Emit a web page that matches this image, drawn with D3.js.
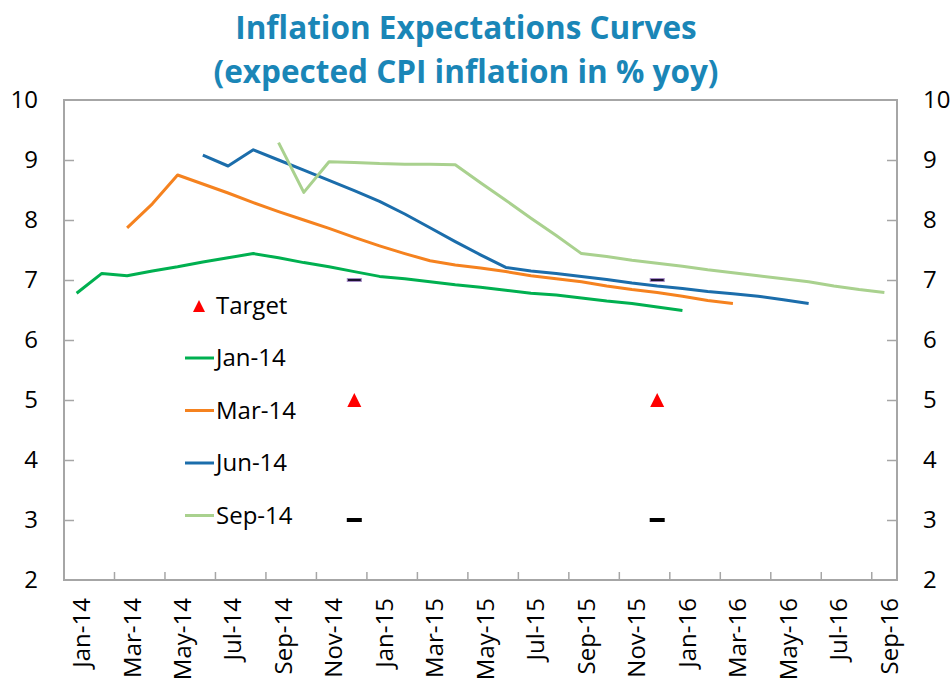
<!DOCTYPE html>
<html>
<head>
<meta charset="utf-8">
<script src="https://cdn.jsdelivr.net/npm/d3@7"></script>
<style>
  body { margin: 0; background: #fff; }
  text { font-family: "Open Sans", sans-serif; fill: #000; }
</style>
</head>
<body>
<svg id="chart"></svg>
<script>
const width = 951;
const height = 681;

// monthly categories on the x axis
const months = ['Jan-14', 'Feb-14', 'Mar-14', 'Apr-14', 'May-14', 'Jun-14', 'Jul-14', 'Aug-14',
    'Sep-14', 'Oct-14', 'Nov-14', 'Dec-14', 'Jan-15', 'Feb-15', 'Mar-15', 'Apr-15', 'May-15',
    'Jun-15', 'Jul-15', 'Aug-15', 'Sep-15', 'Oct-15', 'Nov-15', 'Dec-15', 'Jan-16', 'Feb-16',
    'Mar-16', 'Apr-16', 'May-16', 'Jun-16', 'Jul-16', 'Aug-16', 'Sep-16'];
const tickLabels = months.filter((d, i) => i % 2 === 0);
const yTicks = [2, 3, 4, 5, 6, 7, 8, 9, 10];

// survey curves: first month + monthly values
const seriesNames = ['Jan-14', 'Mar-14', 'Jun-14', 'Sep-14'];
const seriesStart = ['Jan-14', 'Mar-14', 'Jun-14', 'Sep-14'];
const jan14 = [6.78, 7.11, 7.07, 7.15, 7.22, 7.30, 7.37, 7.44, 7.37, 7.29, 7.22, 7.14, 7.06,
    7.02, 6.97, 6.92, 6.88, 6.83, 6.78, 6.75, 6.70, 6.65, 6.61, 6.55, 6.49];
const mar14 = [7.87, 8.27, 8.75, 8.60, 8.45, 8.29, 8.14, 8.00, 7.86, 7.71, 7.57, 7.44, 7.32,
    7.25, 7.20, 7.14, 7.07, 7.02, 6.97, 6.90, 6.84, 6.79, 6.73, 6.66, 6.61];
const jun14 = [9.08, 8.90, 9.17, 9.00, 8.83, 8.66, 8.49, 8.31, 8.10, 7.87, 7.64, 7.42, 7.21,
    7.15, 7.11, 7.06, 7.01, 6.95, 6.90, 6.86, 6.81, 6.77, 6.73, 6.67, 6.61];
const sep14 = [9.29, 8.46, 8.97, 8.96, 8.94, 8.93, 8.93, 8.92, 8.62, 8.33, 8.03, 7.74, 7.44,
    7.39, 7.33, 7.28, 7.23, 7.17, 7.12, 7.07, 7.02, 6.97, 6.90, 6.84, 6.79];
const seriesValues = [jan14, mar14, jun14, sep14];
const seriesColors = ['#00b050', '#f5821f', '#1b6dab', '#a9d18e'];

// target and band
const targetMonths = ['Dec-14', 'Dec-15'];
const targetValues = [5, 5];
const upperBand = [7, 7];
const lowerBand = [3, 3];

const plotLeft = 64, plotRight = 897, plotTop = 100, plotBottom = 580;
const fontSize = '24px';

const svg = d3.select('#chart')
    .attr('width', width)
    .attr('height', height);

const x = d3.scaleBand().domain(months).range([plotLeft, plotRight]);
const y = d3.scaleLinear().domain([2, 10]).range([plotBottom, plotTop]);
const bw = x.bandwidth();
const cx = m => x(m) + bw / 2;

// title
const titleColor = '#1a86b7';
svg.append('text')
    .attr('x', 466).attr('y', 39)
    .attr('text-anchor', 'middle')
    .style('font-size', '31.5px').style('font-weight', 'bold').style('fill', titleColor)
    .text('Inflation Expectations Curves');
svg.append('text')
    .attr('x', 466).attr('y', 83)
    .attr('text-anchor', 'middle')
    .style('font-size', '31.5px').style('font-weight', 'bold').style('fill', titleColor)
    .text('(expected CPI inflation in % yoy)');

// frame
svg.append('rect')
    .attr('x', plotLeft).attr('y', plotTop)
    .attr('width', plotRight - plotLeft).attr('height', plotBottom - plotTop)
    .attr('fill', 'none')
    .attr('stroke', '#a6a6a6')
    .attr('stroke-width', 2);

// y axes (left and right)
const yLeft = svg.append('g')
    .attr('transform', `translate(${plotLeft}, 0)`)
    .call(d3.axisLeft(y).tickValues(yTicks).tickSizeInner(-10).tickSizeOuter(0).tickPadding(26));
const yRight = svg.append('g')
    .attr('transform', `translate(${plotRight}, 0)`)
    .call(d3.axisRight(y).tickValues(yTicks).tickSizeInner(-10).tickSizeOuter(0).tickPadding(26));

[yLeft, yRight].forEach(g => {
    g.select('.domain').remove();
    g.selectAll('line').attr('stroke', '#a6a6a6').attr('stroke-width', 1.5);
    g.selectAll('line').filter(d => d === 2 || d === 10).remove();
    g.selectAll('text').style('font-size', fontSize).style('font-family', '"Open Sans", sans-serif');
});

// x axis: labels every other month, ticks between categories
const xAxis = svg.append('g')
    .attr('transform', `translate(0, ${plotBottom})`)
    .call(d3.axisBottom(x).tickValues(tickLabels).tickSize(0));
xAxis.select('.domain').remove();
xAxis.selectAll('text')
    .attr('transform', 'rotate(-90)')
    .attr('text-anchor', 'end')
    .attr('x', -18)
    .attr('y', 5)
    .attr('dy', '0.35em')
    .style('font-size', fontSize)
    .style('font-family', '"Open Sans", sans-serif');

svg.append('g').selectAll('line')
    .data(months.filter((d, i) => i % 2 === 0 && i > 0))
    .enter()
    .append('line')
    .attr('x1', d => x(d)).attr('x2', d => x(d))
    .attr('y1', plotBottom).attr('y2', plotBottom - 8)
    .attr('stroke', '#a6a6a6')
    .attr('stroke-width', 1.5);

// curves
const line = d3.line()
    .x(d => cx(d.month))
    .y(d => y(d.value));

seriesValues.forEach((vals, k) => {
    const start = months.indexOf(seriesStart[k]);
    const pts = vals.map((v, i) => ({month: months[start + i], value: v}));
    svg.append('path')
        .datum(pts)
        .attr('fill', 'none')
        .attr('stroke', seriesColors[k])
        .attr('stroke-width', 3)
        .attr('stroke-linejoin', 'round')
        .attr('d', line);
});

// band dashes
svg.selectAll('.upper')
    .data(targetMonths)
    .enter()
    .append('rect')
    .attr('class', 'upper')
    .attr('x', d => cx(d) - 7).attr('y', (d, i) => y(upperBand[i]) - 1.5)
    .attr('width', 14).attr('height', 3)
    .attr('fill', '#1d1130')
    .attr('stroke', '#a58cc8')
    .attr('stroke-width', 1);

svg.selectAll('.lower')
    .data(targetMonths)
    .enter()
    .append('rect')
    .attr('class', 'lower')
    .attr('x', d => cx(d) - 7.5).attr('y', (d, i) => y(lowerBand[i]) - 2)
    .attr('width', 15).attr('height', 4)
    .attr('fill', '#000');

// target triangles
const tri = 'M0,-7L7,7L-7,7Z';
svg.selectAll('.target')
    .data(targetMonths)
    .enter()
    .append('path')
    .attr('class', 'target')
    .attr('transform', (d, i) => `translate(${cx(d)}, ${y(targetValues[i])})`)
    .attr('d', tri)
    .attr('fill', '#ff0000');

// legend
const legend = svg.append('g');
legend.append('path')
    .attr('transform', 'translate(199, 306)')
    .attr('d', 'M0,-6L6,6L-6,6Z')
    .attr('fill', '#ff0000');
legend.append('text')
    .attr('x', 216).attr('y', 306).attr('dy', '0.35em')
    .style('font-size', fontSize)
    .text('Target');

seriesNames.forEach((name, k) => {
    const ly = 358 + k * 52.5;
    legend.append('line')
        .attr('x1', 185).attr('x2', 214)
        .attr('y1', ly).attr('y2', ly)
        .attr('stroke', seriesColors[k])
        .attr('stroke-width', 3);
    legend.append('text')
        .attr('x', 216).attr('y', ly).attr('dy', '0.35em')
        .style('font-size', fontSize)
        .text(name);
});
</script>
</body>
</html>
